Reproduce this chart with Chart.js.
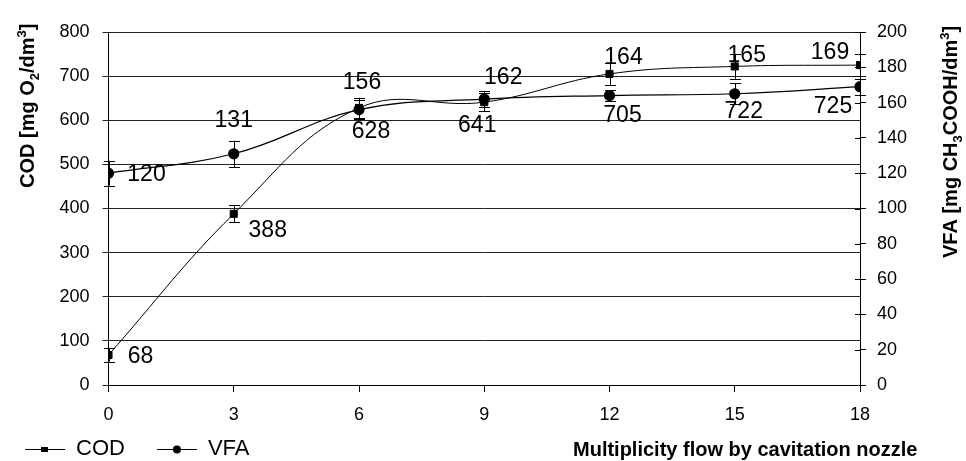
<!DOCTYPE html>
<html>
<head>
<meta charset="utf-8">
<script src="https://cdn.jsdelivr.net/npm/chart.js@4.4.0/dist/chart.umd.min.js"></script>
<style>
  html, body { margin: 0; padding: 0; background: #fff; }
  #wrap { width: 966px; height: 461px; }
</style>
</head>
<body>
<div id="wrap"><canvas id="grafico"></canvas></div>
<script>
// data
const multiplicity = [0, 3, 6, 9, 12, 15, 18];
const cod = [68, 388, 628, 641, 705, 722, 725];
const codErr = [15, 19, 23, 20, 25, 28, 25];
const vfa = [120, 131, 156, 162, 164, 165, 169];
const vfaErr = [7, 7.5, 5.5, 4.5, 3, 6, 4.5];

// where each value label sits, in px from its point
const codLabelShift = [[32, 2], [34, 17], [12, 24], [-7, 23], [13, 42], [9, 45], [-27, 42]];
const vfaLabelShift = [[38, 1], [0, -33], [3, -27], [19, -21], [14, -38], [12, -38], [-30, -34]];

const FONT = '"Liberation Sans", Arial, sans-serif';
Chart.defaults.font.family = FONT;
Chart.defaults.color = "#000";

// legend sample: blank gap, then line with marker
function legendMark(style) {
  const c = document.createElement("canvas");
  c.width = 62;
  c.height = 12;
  const g = c.getContext("2d");
  g.strokeStyle = "#000";
  g.lineWidth = 1.2;
  g.beginPath();
  g.moveTo(22, 6.5);
  g.lineTo(62, 6.5);
  g.stroke();
  g.fillStyle = "#000";
  if (style === "rect") {
    g.fillRect(38, 4, 7, 5);
  } else {
    g.beginPath();
    g.arc(42, 6.5, 4, 0, Math.PI * 2);
    g.fill();
  }
  return c;
}
const marks = [legendMark("rect"), legendMark("circle")];

function drawRich(ctx, parts, x, y) {
  let cx = x;
  parts.forEach((p) => {
    const small = p.sub || p.sup;
    ctx.font = (small ? "bold 13px " : "bold 20px ") + FONT;
    const dy = p.sub ? 5 : p.sup ? -8 : 0;
    ctx.fillText(p.t, cx, y + dy);
    cx += ctx.measureText(p.t).width;
  });
}

const errorBars = {
  id: "errorBars",
  afterDatasetsDraw(chart) {
    const ctx = chart.ctx;
    const sets = [
      { meta: chart.getDatasetMeta(0), scale: chart.scales.y, vals: cod, err: codErr },
      { meta: chart.getDatasetMeta(1), scale: chart.scales.y2, vals: vfa, err: vfaErr },
    ];
    ctx.save();
    ctx.strokeStyle = "#000";
    ctx.lineWidth = 1;
    sets.forEach((s) => {
      s.meta.data.forEach((pt, i) => {
        const x = Math.round(pt.x) + 0.5;
        const top = s.scale.getPixelForValue(s.vals[i] + s.err[i]);
        const bot = s.scale.getPixelForValue(s.vals[i] - s.err[i]);
        ctx.beginPath();
        ctx.moveTo(x, top);
        ctx.lineTo(x, bot);
        ctx.moveTo(x - 5.5, Math.round(top) + 0.5);
        ctx.lineTo(x + 5.5, Math.round(top) + 0.5);
        ctx.moveTo(x - 5.5, Math.round(bot) + 0.5);
        ctx.lineTo(x + 5.5, Math.round(bot) + 0.5);
        ctx.stroke();
      });
    });
    ctx.restore();
  },
};

const valueLabels = {
  id: "valueLabels",
  afterDatasetsDraw(chart) {
    const ctx = chart.ctx;
    ctx.save();
    ctx.font = "23px " + FONT;
    ctx.fillStyle = "#000";
    ctx.textAlign = "center";
    ctx.textBaseline = "middle";
    chart.getDatasetMeta(0).data.forEach((pt, i) => {
      ctx.fillText(String(cod[i]), pt.x + codLabelShift[i][0], pt.y + codLabelShift[i][1]);
    });
    chart.getDatasetMeta(1).data.forEach((pt, i) => {
      ctx.fillText(String(vfa[i]), pt.x + vfaLabelShift[i][0], pt.y + vfaLabelShift[i][1]);
    });
    ctx.restore();
  },
};

const extras = {
  id: "extras",
  afterDraw(chart) {
    const ctx = chart.ctx;
    const area = chart.chartArea;
    ctx.save();
    // inner half of the right-axis ticks
    const r = chart.scales.y2;
    ctx.strokeStyle = "#000";
    ctx.lineWidth = 1;
    r.ticks.forEach((t) => {
      const y = Math.round(r.getPixelForValue(t.value)) + 0.5;
      ctx.beginPath();
      ctx.moveTo(area.right - 5, y);
      ctx.lineTo(area.right, y);
      ctx.stroke();
    });
    ctx.fillStyle = "#000";
    ctx.textAlign = "left";
    ctx.textBaseline = "alphabetic";
    // left axis title
    ctx.save();
    ctx.translate(34, 188);
    ctx.rotate(-Math.PI / 2);
    drawRich(ctx, [{ t: "COD [mg O" }, { t: "2", sub: true }, { t: "/dm" }, { t: "3", sup: true }, { t: "]" }], 0, 0);
    ctx.restore();
    // right axis title
    ctx.save();
    ctx.translate(957, 258);
    ctx.rotate(-Math.PI / 2);
    drawRich(ctx, [{ t: "VFA [mg CH" }, { t: "3", sub: true }, { t: "COOH/dm" }, { t: "3", sup: true }, { t: "]" }], 0, 0);
    ctx.restore();
    // x title
    drawRich(ctx, [{ t: "Multiplicity flow by cavitation nozzle" }], 573, 456);
    ctx.restore();
  },
};

new Chart(document.getElementById("grafico"), {
  type: "line",
  data: {
    datasets: [
      {
        label: "COD",
        data: multiplicity.map((m, i) => ({ x: m, y: cod[i] })),
        yAxisID: "y",
        borderColor: "#000",
        borderWidth: 1,
        backgroundColor: "#000",
        pointStyle: "rect",
        pointRadius: 5,
        tension: 0.4,
      },
      {
        label: "VFA",
        data: multiplicity.map((m, i) => ({ x: m, y: vfa[i] })),
        yAxisID: "y2",
        borderColor: "#000",
        borderWidth: 1.2,
        backgroundColor: "#000",
        pointStyle: "circle",
        pointRadius: 5,
        tension: 0.4,
      },
    ],
  },
  options: {
    responsive: true,
    maintainAspectRatio: false,
    animation: false,
    layout: { padding: { left: -7, top: 32, right: 0, bottom: -9 } },
    plugins: {
      tooltip: { enabled: false },
      legend: {
        position: "bottom",
        align: "start",
        labels: {
          usePointStyle: true,
          pointStyleWidth: 62,
          padding: 10,
          font: { size: 22 },
          color: "#000",
          generateLabels: (chart) => {
            const items = Chart.defaults.plugins.legend.labels.generateLabels(chart);
            items.forEach((it, i) => {
              it.pointStyle = marks[i];
            });
            return items;
          },
        },
      },
    },
    scales: {
      x: {
        type: "linear",
        min: 0,
        max: 18,
        ticks: { stepSize: 3, font: { size: 18 }, color: "#000", padding: 12 },
        grid: { drawOnChartArea: false, tickLength: 7, color: "#000" },
        border: { color: "#000" },
        afterFit: (s) => {
          s.height = 43;
        },
      },
      y: {
        position: "left",
        min: 0,
        max: 800,
        ticks: { stepSize: 100, font: { size: 18 }, color: "#000", padding: 13 },
        grid: { color: "#222", tickLength: 6 },
        border: { color: "#000" },
        afterFit: (s) => {
          s.width = 115.5;
        },
      },
      y2: {
        position: "right",
        min: 0,
        max: 200,
        ticks: { stepSize: 20, font: { size: 18 }, color: "#000", padding: 11 },
        grid: { drawOnChartArea: false, tickLength: 6, color: "#000" },
        border: { color: "#000" },
        afterFit: (s) => {
          s.width = 106;
        },
      },
    },
  },
  plugins: [errorBars, valueLabels, extras],
});
</script>
</body>
</html>
